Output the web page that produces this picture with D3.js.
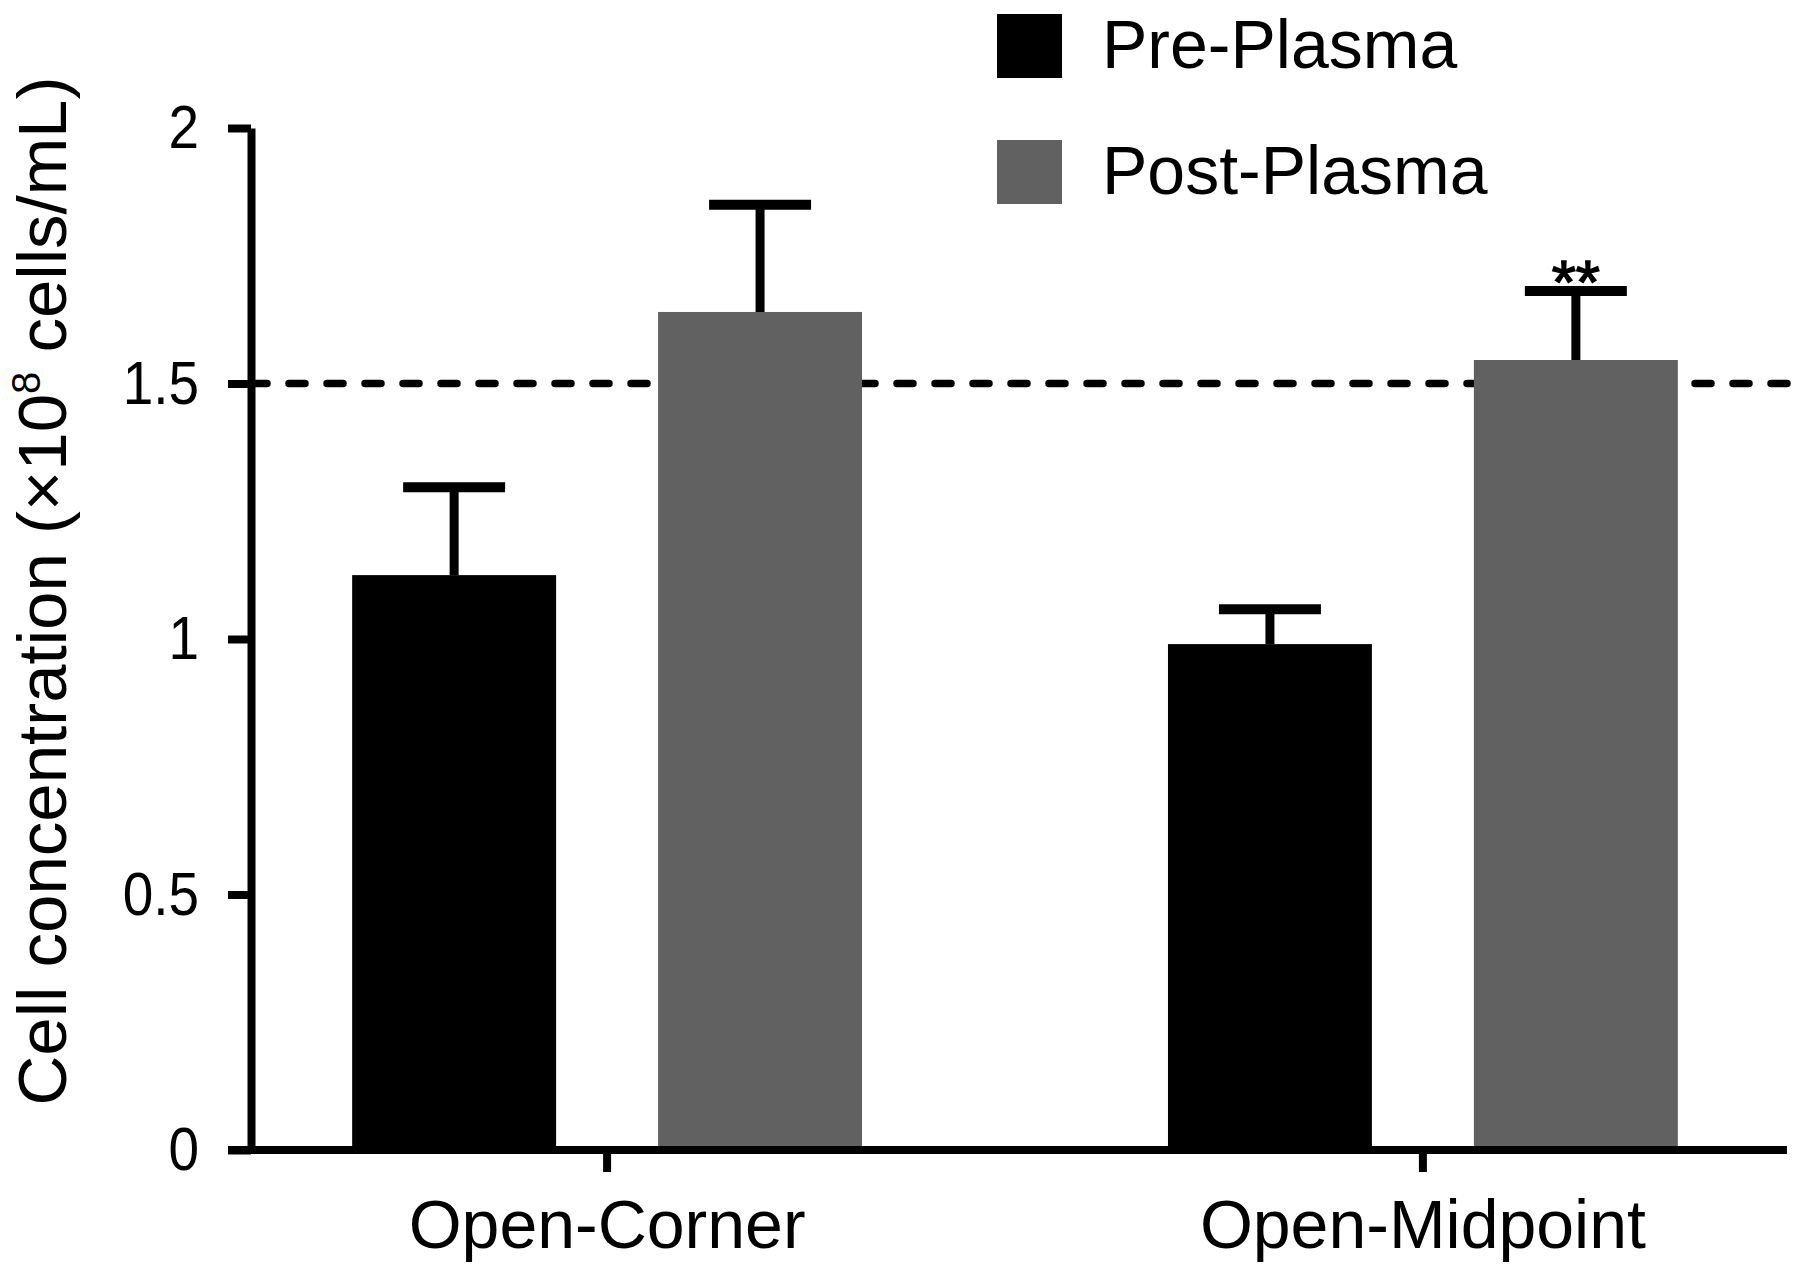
<!DOCTYPE html>
<html>
<head>
<meta charset="utf-8">
<script src="https://cdn.jsdelivr.net/npm/d3@7"></script>
<style>
    body {margin:0; background:#fff;}
    text {font-family:"Liberation Sans", Arial, Helvetica, sans-serif; fill:#000;}
</style>
</head>
<body>
<svg id="chart" width="1800" height="1271"></svg>
<script>
//data
let categories = ["Open-Corner", "Open-Midpoint"]
let seriesNames = ["Pre-Plasma", "Post-Plasma"]
let seriesColors = ["#000000", "#616161"]
let preValues = [1.125, 0.99]
let preErrors = [0.172, 0.068]
let postValues = [1.64, 1.546]
let postErrors = [0.21, 0.135]
let yTicks = [0, 0.5, 1, 1.5, 2]
let yTickLabels = ["0", "0.5", "1", "1.5", "2"]
let referenceLevel = 1.5
let marks = ["", "**"] // significance over Post-Plasma bars

let svg = d3.select("#chart")

let plotLeft = 251, plotRight = 1779, plotTop = 128, plotBottom = 1150
let tickLen = 23

let x0 = d3.scaleBand().domain(categories).range([plotLeft, plotRight])
    .paddingInner(0.375).paddingOuter(0.124)
let x1 = d3.scaleBand().domain(seriesNames).range([0, x0.bandwidth()]).paddingInner(1/3)
let yScale = d3.scaleLinear().domain([0, 2]).range([plotBottom, plotTop])

// table of bars built from arrays
let bars = []
categories.forEach(function (c, i) {
    bars.push({cat: c, s: seriesNames[0], v: preValues[i], e: preErrors[i], c: seriesColors[0], m: ""})
    bars.push({cat: c, s: seriesNames[1], v: postValues[i], e: postErrors[i], c: seriesColors[1], m: marks[i]})
})

// dashed reference line (behind bars)
svg.append("line")
    .attr("x1", plotLeft).attr("x2", plotRight + 10)
    .attr("y1", yScale(referenceLevel)).attr("y2", yScale(referenceLevel))
    .attr("stroke", "#000").attr("stroke-width", 7.5)
    .attr("stroke-dasharray", "16,22").attr("stroke-linecap", "round")

// bars
svg.selectAll(".bar").data(bars).enter().append("rect")
    .attr("class", "bar")
    .attr("x", function (d) {return x0(d.cat) + x1(d.s)})
    .attr("y", function (d) {return yScale(d.v)})
    .attr("width", x1.bandwidth())
    .attr("height", function (d) {return yScale(0) - yScale(d.v)})
    .attr("fill", function (d) {return d.c})

// error bars (upper only)
let errG = svg.selectAll(".err").data(bars).enter().append("g").attr("class", "err")
    .attr("transform", function (d) {return `translate(${x0(d.cat) + x1(d.s) + x1.bandwidth()/2},0)`})
errG.append("line")
    .attr("x1", 0).attr("x2", 0)
    .attr("y1", function (d) {return yScale(d.v)})
    .attr("y2", function (d) {return yScale(d.v + d.e)})
    .attr("stroke", "#000").attr("stroke-width", 9)
errG.append("line")
    .attr("x1", -x1.bandwidth()/4).attr("x2", x1.bandwidth()/4)
    .attr("y1", function (d) {return yScale(d.v + d.e)})
    .attr("y2", function (d) {return yScale(d.v + d.e)})
    .attr("stroke", "#000").attr("stroke-width", 10)
errG.append("text")
    .attr("x", 0)
    .attr("y", function (d) {return yScale(d.v + d.e) + 12})
    .attr("text-anchor", "middle")
    .attr("font-size", 62)
    .attr("stroke", "#000").attr("stroke-width", 1.5)
    .text(function (d) {return d.m})

// Y axis
let y_axis = d3.axisLeft(yScale).tickValues(yTicks)
    .tickFormat(function (d, i) {return yTickLabels[i]})
    .tickSize(tickLen).tickSizeOuter(0)
let gy = svg.append("g").attr("transform", `translate(${plotLeft},0)`).call(y_axis)
gy.selectAll("path,line").attr("stroke", "#000").attr("stroke-width", 8)
// tick labels are a little condensed in the figure
gy.selectAll("text").attr("font-size", 61).attr("fill", "#000")
    .attr("x", -52 / 0.9)
    .attr("transform", "scale(0.9,1)")
    .style("font-family", "'Liberation Sans', Arial, sans-serif")

// X axis
let x_axis = d3.axisBottom(x0).tickSize(22).tickSizeOuter(0).tickPadding(28)
let gx = svg.append("g").attr("transform", `translate(0,${plotBottom})`).call(x_axis)
gx.select(".domain").attr("d", `M${plotLeft - tickLen},0H${plotRight + 8}`)
gx.selectAll("path,line").attr("stroke", "#000").attr("stroke-width", 8)
gx.selectAll("text").attr("font-size", 68).attr("fill", "#000")
    .style("font-family", "'Liberation Sans', Arial, sans-serif")

// Y label
let yl = svg.append("text")
    .attr("transform", "translate(66,591) rotate(-90)")
    .attr("text-anchor", "middle")
    .attr("font-size", 69)
yl.append("tspan").text("Cell concentration (\u00d710")
yl.append("tspan").attr("font-size", 40).attr("dy", -26).text("8")
yl.append("tspan").attr("dy", 26).text(" cells/mL)")

// Legend
let legend = svg.selectAll(".legend").data(seriesNames).enter().append("g")
    .attr("class", "legend")
    .attr("transform", function (d, i) {return `translate(997,${14 + i*126})`})
legend.append("rect").attr("width", 65).attr("height", 64)
    .attr("fill", function (d, i) {return seriesColors[i]})
legend.append("text").attr("x", 105).attr("y", 54)
    .attr("font-size", 68).text(function (d) {return d})
</script>
</body>
</html>
